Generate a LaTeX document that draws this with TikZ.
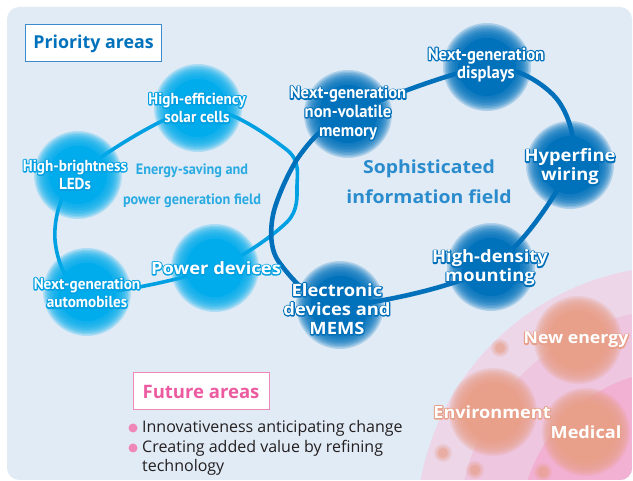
\documentclass[tikz,border=0pt]{standalone}
\usepackage{fontspec}
\setmainfont{Open Sans}
\newfontfamily\condfont[FakeStretch=0.95]{PT Sans}
\newfontfamily\widefont[FakeStretch=1.08]{Open Sans}

\definecolor{pagebg}{RGB}{225,235,246}
\definecolor{energyblue}{RGB}{0,172,236}
\definecolor{energyline}{RGB}{0,160,226}
\definecolor{infoblue}{RGB}{0,114,188}
\definecolor{infoline}{RGB}{0,112,186}
\definecolor{energytext}{RGB}{41,171,226}
\definecolor{infotext}{RGB}{43,140,205}
\definecolor{prioframe}{RGB}{60,140,205}
\definecolor{ringa}{RGB}{236,214,232}
\definecolor{ringb}{RGB}{238,198,224}
\definecolor{ringc}{RGB}{242,176,210}
\definecolor{futureorange}{RGB}{232,160,138}
\definecolor{futurepink}{RGB}{236,90,160}
\definecolor{futureframe}{RGB}{240,135,185}
\definecolor{bullettext}{RGB}{35,31,32}

% white letters with a coloured rim
\newcommand{\rimtext}[2]{\leavevmode\rlap{\color{#1}\special{pdf:literal direct 2 Tr 2.4 w 1 j}#2\special{pdf:literal direct 0 Tr 0.4 w}}#2}
\newcommand{\elab}[1]{\rimtext{energyline}{#1}}
\newcommand{\ilab}[1]{\rimtext{infoline}{#1}}
\newcommand{\flab}[1]{\rimtext{futureorange}{#1}}

\begin{document}
\begin{tikzpicture}[x=1pt, y=-1pt,
  energyloop/.style={draw=energyline, line width=3.6pt},
  infoloop/.style={draw=infoline, line width=4.6pt},
  condlab/.style={text=white, align=center, inner sep=0pt, font=\condfont\bfseries\fontsize{16}{18.5}\selectfont},
  infocond/.style={condlab, font=\condfont\bfseries\fontsize{17.5}{18.7}\selectfont},
  widelab/.style={text=white, align=center, inner sep=0pt, font=\widefont\bfseries\fontsize{17}{19}\selectfont},
  fieldlab/.style={align=center, inner sep=0pt},
  headbox/.style={fill=white, line width=1pt, minimum width=136pt, minimum height=37pt, font=\bfseries\fontsize{17.8}{20}\selectfont}]
  \useasboundingbox (0,0) rectangle (633,481);
  \fill[pagebg, rounded corners=12pt] (7,7) rectangle (632,480);

  % future areas
  \begin{scope}
    \clip[rounded corners=12pt] (7,7) rectangle (632,480);
    \coordinate (rings) at (679,529);
    \fill[ringa] (rings) circle (263pt);
    \fill[ringb] (rings) circle (220pt);
    \fill[ringc] (rings) circle (159pt);
    \coordinate (newenergy) at (578,340);
    \coordinate (environment) at (493,412);
    \coordinate (medical) at (586,432);
    \foreach \c in {newenergy, environment, medical} {
      \fill[futureorange] (\c) circle (29pt);
      \foreach \r in {30.5,32,...,44}
        \fill[futureorange, opacity=0.22] (\c) circle (\r pt);
    }
    \foreach \p in {(500,348), (443,453), (475,470), (543,472)} {
      \fill[futureorange, opacity=0.45] \p circle (5pt);
      \foreach \r in {6,7.5,9}
        \fill[futureorange, opacity=0.2] \p circle (\r pt);
    }
    \node[widelab, font=\widefont\bfseries\fontsize{16.4}{19}\selectfont] (newenergylbl) at (576,340) {\flab{New energy}};
    \node[widelab, font=\widefont\bfseries\fontsize{16.8}{19}\selectfont] (environmentlbl) at (492,412) {\flab{Environment}};
    \node[widelab, font=\widefont\bfseries\fontsize{16.8}{19}\selectfont] (medicallbl) at (586,432) {\flab{Medical}};
  \end{scope}

  % priority areas
  \coordinate (leds) at (78,175);
  \coordinate (solar) at (198,108);
  \coordinate (power) at (215,268);
  \coordinate (auto) at (87,292);
  \coordinate (memory) at (348,114);
  \coordinate (displays) at (487,67);
  \coordinate (hyperfine) at (570,165);
  \coordinate (mounting) at (491,267);
  \coordinate (mems) at (340,305);
  \coordinate (e1) at (287,150);
  \coordinate (e2) at (297,186);
  \coordinate (e3) at (287,222);
  \coordinate (e4) at (55,240);
  \coordinate (d1) at (556,98);
  \coordinate (d2) at (279,262);
  \coordinate (d3) at (273,215);
  \coordinate (d4) at (300,155);

  \draw[energyloop] plot[smooth cycle] coordinates {(leds) (solar) (e1) (e2) (e3) (power) (auto) (e4)};
  \draw[infoloop] plot[smooth cycle] coordinates {(memory) (displays) (d1) (hyperfine) (mounting) (mems) (d2) (d3) (d4)};

  \foreach \c in {leds, solar, power, auto} {
    \fill[energyblue] (\c) circle (29pt);
    \foreach \r in {30.5,32,...,44}
      \fill[energyblue, opacity=0.22] (\c) circle (\r pt);
  }
  \foreach \c in {memory, displays, hyperfine, mounting, mems} {
    \fill[infoblue] (\c) circle (29pt);
    \foreach \r in {30.5,32,...,44}
      \fill[infoblue, opacity=0.22] (\c) circle (\r pt);
  }

  \node[condlab] (solarlbl) at (197,108) {\elab{High-efficiency}\\\elab{solar cells}};
  \node[condlab] (ledslbl) at (75,175) {\elab{High-brightness}\\\elab{LEDs}};
  \node[condlab] (autolbl) at (87,293) {\elab{Next-generation}\\\elab{automobiles}};
  \node[widelab] (powerlbl) at (216,268) {\elab{Power devices}};
  \node[infocond] (memorylbl) at (348,113) {\ilab{Next-generation}\\\ilab{non-volatile}\\\ilab{memory}};
  \node[infocond] (displayslbl) at (486,65) {\ilab{Next-generation}\\\ilab{displays}};
  \node[widelab] (hyperfinelbl) at (570,167) {\ilab{Hyperfine}\\\ilab{wiring}};
  \node[widelab] (mountinglbl) at (490,268) {\ilab{High-density}\\\ilab{mounting}};
  \node[widelab] (memslbl) at (337,309) {\ilab{Electronic}\\\ilab{devices and}\\\ilab{MEMS}};

  \node[fieldlab, text=energytext, font=\condfont\bfseries\fontsize{15}{30}\selectfont] (energyfield) at (192,186) {Energy-saving and\\power generation field};
  \node[fieldlab, text=infotext, font=\widefont\bfseries\fontsize{18}{30}\selectfont] (infofield) at (429,182) {Sophisticated\\information field};

  % headings and notes
  \node[headbox, draw=prioframe, text=infoblue] (priority) at (93.5,43.5) {Priority areas};
  \node[headbox, draw=futureframe, text=futurepink, font=\bfseries\fontsize{18.5}{20}\selectfont] (future) at (201,391.5) {Future areas};
  \node[circle, fill=futureframe, inner sep=0pt, minimum size=9pt] (dotone) at (133,428) {};
  \node[circle, fill=futureframe, inner sep=0pt, minimum size=9pt] (dottwo) at (133,448) {};
  \node[anchor=west, inner sep=0pt, text=bullettext, font=\fontsize{16}{19}\selectfont] (noteone) at (142,428) {Innovativeness anticipating change};
  \node[anchor=north west, inner sep=0pt, align=left, text=bullettext, font=\fontsize{16}{19}\selectfont] (notetwo) at (142,440) {Creating added value by refining\\technology};
\end{tikzpicture}
\end{document}
